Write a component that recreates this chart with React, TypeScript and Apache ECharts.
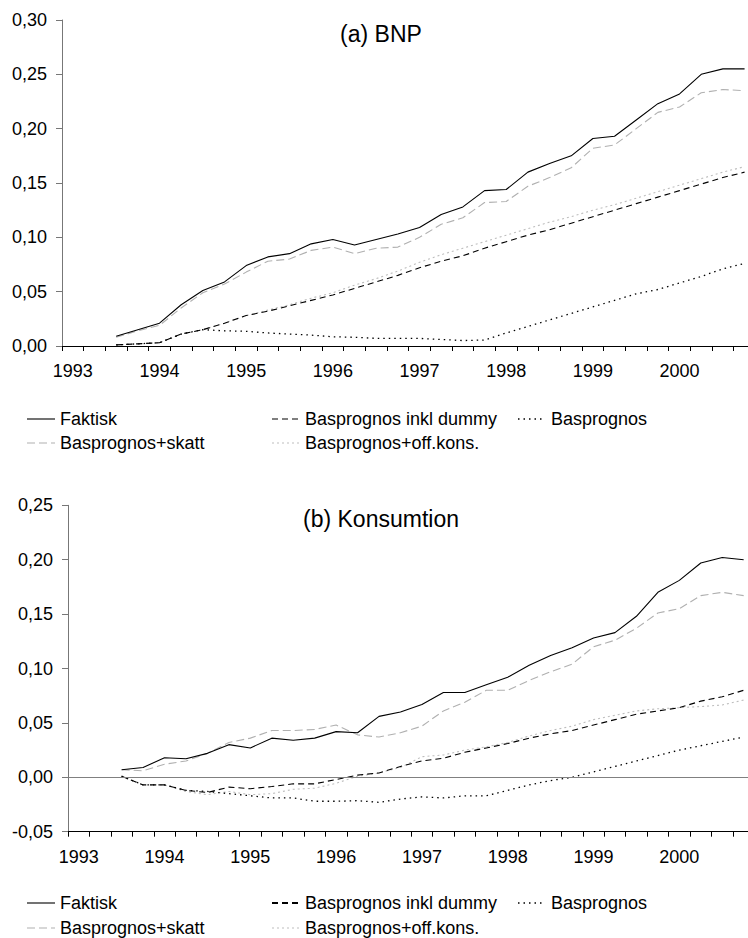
import React, { useEffect, useRef } from "react";
import * as echarts from "echarts";

const FONT = "'Liberation Sans', Arial, Helvetica, sans-serif";

// categories: quarters 1993Q1..2000Q4, year labels on Q1
const years = [1993, 1994, 1995, 1996, 1997, 1998, 1999, 2000];
const quarterNames = ["Q1", "Q2", "Q3", "Q4"];
const quarters: string[] = years.flatMap((y) => quarterNames.map((q) => `${y}${q}`));

// values start in 1993Q3 (first two quarters empty)
const leadingEmpty = 2;

// (a) BNP
const faktiskA = [0.009, 0.015, 0.021, 0.038, 0.051, 0.059, 0.074, 0.082, 0.085, 0.094, 0.098, 0.093, 0.098, 0.103, 0.109, 0.121, 0.128, 0.143, 0.144, 0.160, 0.168, 0.175, 0.191, 0.193, 0.208, 0.223, 0.232, 0.250, 0.255, 0.255];
const dummyA = [0.001, 0.002, 0.003, 0.011, 0.015, 0.021, 0.028, 0.032, 0.037, 0.042, 0.047, 0.053, 0.059, 0.065, 0.072, 0.078, 0.083, 0.090, 0.096, 0.102, 0.107, 0.113, 0.119, 0.125, 0.131, 0.137, 0.143, 0.149, 0.155, 0.160];
const basA = [0.001, 0.002, 0.003, 0.011, 0.015, 0.014, 0.0135, 0.012, 0.011, 0.010, 0.0085, 0.008, 0.007, 0.007, 0.007, 0.006, 0.005, 0.0055, 0.012, 0.018, 0.024, 0.030, 0.036, 0.042, 0.048, 0.052, 0.058, 0.064, 0.071, 0.076];
const skattA = [0.008, 0.014, 0.019, 0.035, 0.049, 0.057, 0.068, 0.078, 0.080, 0.088, 0.091, 0.085, 0.090, 0.091, 0.100, 0.112, 0.118, 0.132, 0.133, 0.147, 0.155, 0.164, 0.182, 0.185, 0.200, 0.215, 0.220, 0.233, 0.236, 0.235];
const offA = [0.001, 0.002, 0.003, 0.011, 0.015, 0.021, 0.028, 0.033, 0.038, 0.044, 0.049, 0.056, 0.062, 0.069, 0.077, 0.084, 0.090, 0.096, 0.102, 0.108, 0.114, 0.119, 0.125, 0.130, 0.136, 0.142, 0.148, 0.154, 0.160, 0.165];

// (b) Konsumtion
const faktiskB = [0.007, 0.009, 0.018, 0.017, 0.022, 0.030, 0.027, 0.036, 0.034, 0.036, 0.042, 0.041, 0.056, 0.060, 0.067, 0.078, 0.078, 0.085, 0.092, 0.103, 0.112, 0.119, 0.128, 0.133, 0.148, 0.170, 0.181, 0.197, 0.202, 0.200];
const dummyB = [0.001, -0.007, -0.007, -0.012, -0.014, -0.009, -0.0105, -0.0085, -0.006, -0.006, -0.002, 0.002, 0.004, 0.010, 0.015, 0.0175, 0.023, 0.027, 0.031, 0.036, 0.040, 0.043, 0.048, 0.053, 0.058, 0.061, 0.064, 0.070, 0.074, 0.080];
const basB = [0.001, -0.007, -0.007, -0.012, -0.013, -0.015, -0.017, -0.019, -0.019, -0.022, -0.022, -0.0215, -0.023, -0.020, -0.018, -0.019, -0.017, -0.017, -0.012, -0.007, -0.003, 0.000, 0.005, 0.010, 0.015, 0.020, 0.025, 0.029, 0.033, 0.037];
const skattB = [0.007, 0.006, 0.012, 0.015, 0.022, 0.032, 0.036, 0.043, 0.043, 0.044, 0.048, 0.039, 0.037, 0.041, 0.047, 0.061, 0.069, 0.080, 0.080, 0.089, 0.097, 0.104, 0.120, 0.126, 0.137, 0.151, 0.155, 0.167, 0.170, 0.167];
const offB = [0.001, -0.007, -0.007, -0.013, -0.016, -0.013, -0.016, -0.015, -0.011, -0.010, -0.0055, 0.001, 0.004, 0.009, 0.019, 0.0205, 0.025, 0.028, 0.032, 0.038, 0.043, 0.047, 0.053, 0.057, 0.061, 0.063, 0.064, 0.065, 0.0665, 0.071];

const titles = ["(a) BNP", "(b) Konsumtion"];
const seriesNames = ["Faktisk", "Basprognos inkl dummy", "Basprognos", "Basprognos+skatt", "Basprognos+off.kons."];

const pad = (arr: number[]) => [...Array(leadingEmpty).fill(null), ...arr];

const STYLES: Record<string, any> = {
  "Faktisk": { color: "#000000", width: 1.1, type: "solid" },
  "Basprognos inkl dummy": { color: "#000000", width: 1.1, type: [6, 4] },
  "Basprognos": { color: "#000000", width: 1.3, type: [1.5, 4] },
  "Basprognos+skatt": { color: "#b0b0b0", width: 1.1, type: [8, 4] },
  "Basprognos+off.kons.": { color: "#bdbdbd", width: 1.1, type: [2, 3] },
};

export default function App() {
  const ref = useRef<HTMLDivElement>(null);

  useEffect(() => {
    if (!ref.current) return;
    const chart = echarts.init(ref.current, undefined, { renderer: "svg" });

    const fmtY = (v: number) => v.toFixed(2).replace(".", ",");

    const mkX = (g: number) => ({
      type: "category",
      gridIndex: g,
      data: quarters,
      boundaryGap: true,
      axisLine: { show: true, onZero: false, lineStyle: { color: "#000", width: 1 } },
      axisTick: { show: true, interval: 0, length: 5, inside: false, lineStyle: { color: "#000", width: 1 } },
      axisLabel: {
        interval: 3,
        formatter: (v: string) => v.slice(0, 4),
        margin: 16,
        fontSize: 18,
        color: "#000",
        fontFamily: FONT,
      },
      splitLine: { show: false },
    });

    const mkY = (g: number, min: number, max: number) => ({
      type: "value",
      gridIndex: g,
      min,
      max,
      interval: 0.05,
      axisLine: { show: true, lineStyle: { color: "#777", width: 1 } },
      axisTick: { show: true, length: 6, inside: false, lineStyle: { color: "#777", width: 1 } },
      axisLabel: { formatter: fmtY, fontSize: 18, margin: 15, color: "#000", fontFamily: FONT },
      splitLine: { show: false },
    });

    const panelData = [
      { "Faktisk": faktiskA, "Basprognos inkl dummy": dummyA, "Basprognos": basA, "Basprognos+skatt": skattA, "Basprognos+off.kons.": offA },
      { "Faktisk": faktiskB, "Basprognos inkl dummy": dummyB, "Basprognos": basB, "Basprognos+skatt": skattB, "Basprognos+off.kons.": offB },
    ];
    const drawOrder = ["Basprognos+off.kons.", "Basprognos+skatt", "Basprognos", "Basprognos inkl dummy", "Faktisk"];

    const series: any[] = [];
    panelData.forEach((pd: any, g) => {
      drawOrder.forEach((name) => {
        const st = STYLES[name];
        const s: any = {
          type: "line",
          name,
          xAxisIndex: g,
          yAxisIndex: g,
          data: pad(pd[name]),
          symbol: "none",
          showSymbol: false,
          connectNulls: false,
          lineStyle: { color: st.color, width: st.width, type: st.type },
          itemStyle: { color: st.color },
          silent: true,
        };
        if (g === 1 && name === "Faktisk") {
          s.markLine = {
            silent: true,
            symbol: ["none", "none"],
            label: { show: false },
            lineStyle: { color: "#808080", width: 1, type: "solid" },
            data: [{ yAxis: 0 }],
          };
        }
        series.push(s);
      });
    });

    // legend drawn as graphics
    const legendPos = [
      { name: "Faktisk", x1: 27, x2: 55, tx: 60, row: 0 },
      { name: "Basprognos inkl dummy", x1: 272, x2: 299, tx: 305, row: 0 },
      { name: "Basprognos", x1: 518, x2: 544, tx: 551, row: 0 },
      { name: "Basprognos+skatt", x1: 27, x2: 55, tx: 60, row: 1 },
      { name: "Basprognos+off.kons.", x1: 272, x2: 299, tx: 305, row: 1 },
    ];
    const legendRows = [
      [419, 443],
      [903, 928],
    ];
    const graphic: any[] = [];
    legendRows.forEach((rows, p) => {
      legendPos.forEach((it) => {
        const st = STYLES[it.name];
        const y = rows[it.row];
        let lw = st.width;
        if (p === 1 && it.name === "Basprognos inkl dummy") lw = 2;
        if (p === 1 && it.name === "Basprognos") lw = 1.6;
        graphic.push({
          type: "line",
          shape: { x1: it.x1, y1: y, x2: it.x2, y2: y },
          style: {
            stroke: st.color,
            lineWidth: lw,
            lineDash: Array.isArray(st.type) ? st.type : null,
          },
          silent: true,
        });
        graphic.push({
          type: "text",
          x: it.tx,
          y,
          style: {
            text: it.name,
            fontSize: 18,
            fontFamily: FONT,
            fill: "#000",
            align: "left",
            verticalAlign: "middle",
          },
          silent: true,
        });
      });
    });
    const titlePos = [34, 519];
    titles.forEach((t, i) => {
      graphic.push({
        type: "text",
        x: 381,
        y: titlePos[i],
        style: {
          text: t,
          fontSize: 23,
          fontFamily: FONT,
          fill: "#000",
          align: "center",
          verticalAlign: "middle",
        },
        silent: true,
      });
    });

    chart.setOption({
      animation: false,
      backgroundColor: "#ffffff",
      textStyle: { fontFamily: FONT },
      grid: [
        { left: 62, top: 20, width: 693.4, height: 326, outerBoundsMode: "none", containLabel: false },
        { left: 68, top: 505.3, width: 686.4, height: 326.4, outerBoundsMode: "none", containLabel: false },
      ],
      xAxis: [mkX(0), mkX(1)],
      yAxis: [mkY(0, 0, 0.3), mkY(1, -0.05, 0.25)],
      series,
      graphic,
    });

    return () => chart.dispose();
  }, []);

  return (
    <div
      ref={ref}
      style={{ position: "fixed", left: 0, top: 0, width: 748, height: 938, background: "#fff" }}
    />
  );
}
